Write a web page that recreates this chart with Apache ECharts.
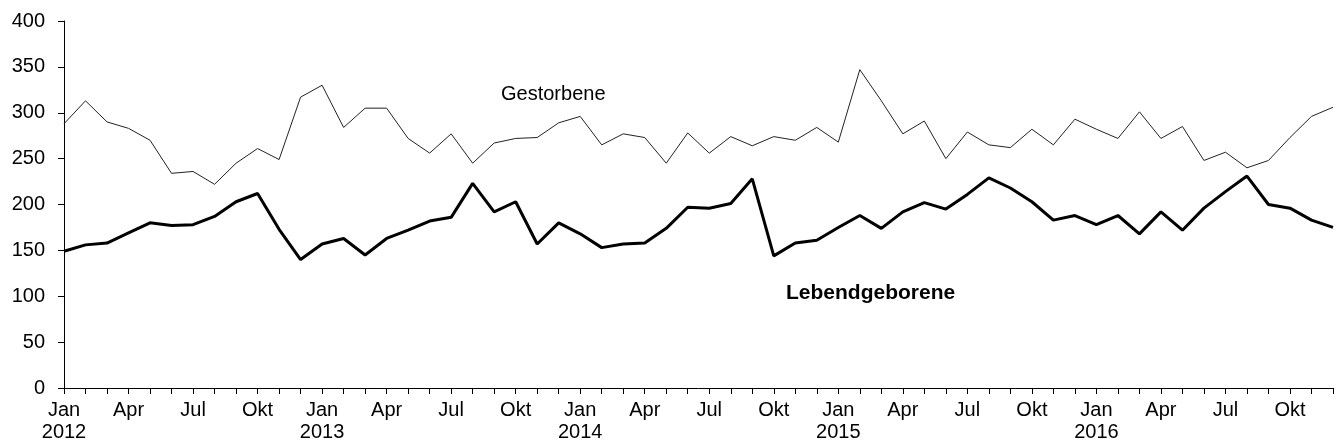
<!DOCTYPE html>
<html>
<head>
<meta charset="utf-8">
<script src="https://cdn.jsdelivr.net/npm/echarts@6/dist/echarts.min.js"></script>
<style>html,body{margin:0;padding:0;background:#fff;}#c{width:1340px;height:448px;}</style>
</head>
<body>
<div id="c"></div>
<script>
const years = [2012, 2013, 2014, 2015, 2016];
const monthNames = ['Jan','Feb','Mar','Apr','Mai','Jun','Jul','Aug','Sep','Okt','Nov','Dez'];
const shownMonths = ['Jan','Apr','Jul','Okt'];
const gestorbene = [
  288,313,290,283,270,234,236,222,245,261,249,317,
  330,284,305,305,272,256,277,245,267,272,273,289,
  296,265,277,273,245,278,256,274,264,274,270,284,
  268,347,313,277,291,250,279,265,262,282,265,293,
  282,272,301,272,285,248,257,240,248,273,296,306
];
const lebendgeborene = [
  149,156,158,169,180,177,178,187,203,212,173,140,
  157,163,145,163,172,182,186,223,192,203,157,180,
  168,153,157,158,174,197,196,201,228,144,158,161,
  175,188,174,192,202,195,211,229,218,203,183,188,
  178,188,168,192,172,196,214,231,200,196,183,175
];
const yTicks = [0, 50, 100, 150, 200, 250, 300, 350, 400];

const categories = [];
years.forEach(y => monthNames.forEach(m => categories.push(m + ' ' + y)));

const font = '"Liberation Sans", Arial, sans-serif';
const chart = echarts.init(document.getElementById('c'), null, {renderer: 'canvas'});
chart.setOption({
  animation: false,
  backgroundColor: '#fff',
  grid: {left: 64, right: 7, top: 21, bottom: 60, containLabel: false},
  xAxis: {
    type: 'category',
    data: categories,
    boundaryGap: false,
    axisLine: {lineStyle: {color: '#000', width: 1}},
    axisTick: {show: true, interval: 0, length: 6, lineStyle: {color: '#000'}},
    axisLabel: {
      interval: 0,
      margin: 11,
      color: '#000',
      fontFamily: font,
      fontSize: 20,
      lineHeight: 22,
      formatter: function (v) {
        const [m, y] = v.split(' ');
        if (!shownMonths.includes(m)) return '';
        return m === 'Jan' ? m + '\n' + y : m;
      }
    },
    splitLine: {show: false}
  },
  yAxis: {
    type: 'value',
    min: yTicks[0],
    max: yTicks[yTicks.length - 1],
    interval: 50,
    axisLine: {show: true, lineStyle: {color: '#000', width: 1}},
    axisTick: {show: true, length: 6, lineStyle: {color: '#000'}},
    axisLabel: {color: '#000', fontFamily: font, fontSize: 20, margin: 19},
    splitLine: {show: false}
  },
  series: [
    {
      name: 'Gestorbene',
      type: 'line',
      data: gestorbene,
      symbol: 'none',
      lineStyle: {color: '#222', width: 1}
    },
    {
      name: 'Lebendgeborene',
      type: 'line',
      data: lebendgeborene,
      symbol: 'none',
      lineStyle: {color: '#000', width: 3}
    }
  ],
  graphic: [
    {type: 'text', left: 501, top: 84, style: {text: 'Gestorbene', font: '20px ' + font, fill: '#000'}},
    {type: 'text', left: 786, top: 283, style: {text: 'Lebendgeborene', font: 'bold 21px ' + font, fill: '#000'}}
  ]
});
</script>
</body>
</html>
